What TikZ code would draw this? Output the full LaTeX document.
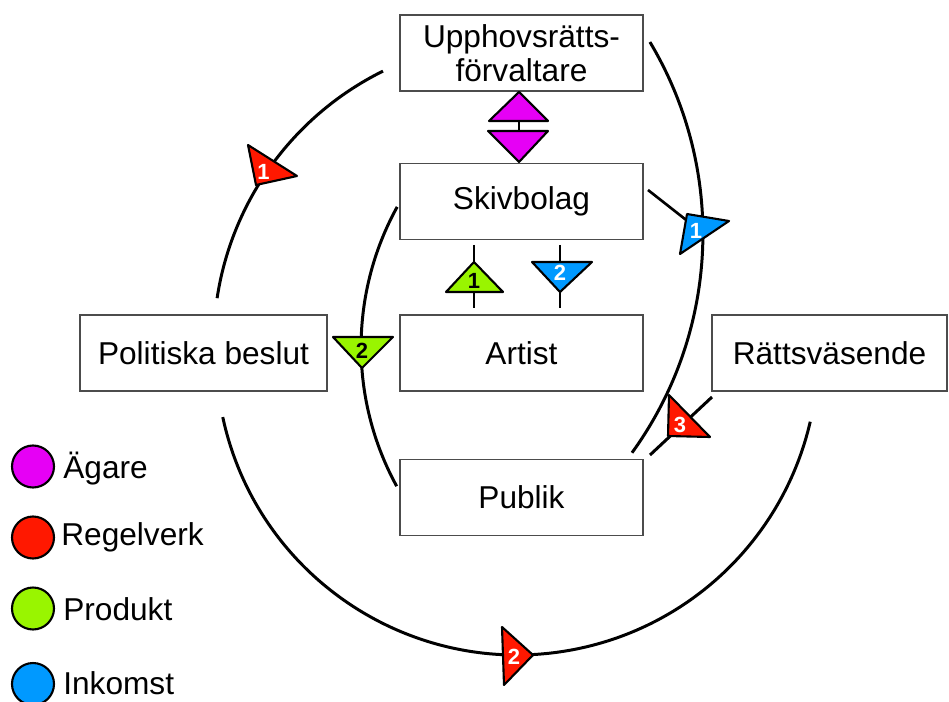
\documentclass[tikz,border=0pt]{standalone}
\usepackage{fontspec}
\setmainfont{Liberation Sans}
\definecolor{cmag}{HTML}{E600F5}
\definecolor{cred}{HTML}{FF1800}
\definecolor{cgreen}{HTML}{99F500}
\definecolor{cblue}{HTML}{0099FF}
\begin{document}
\begin{tikzpicture}[x=0.02cm, y=-0.02cm,
  box/.style={draw=black!70, line width=0.8pt, fill=white, minimum width=4.86cm, minimum height=1.52cm, inner sep=0pt, font=\fontsize{18}{19.5}\selectfont, align=center},
  arcline/.style={line width=1.7pt},
  thinline/.style={line width=1.4pt},
  tri/.style={draw=black, line width=1.2pt, line join=round},
  num/.style={font=\fontsize{12.5}{14}\selectfont\bfseries, inner sep=0pt},
  legc/.style={circle, draw=black, line width=1.2pt, minimum size=0.84cm, inner sep=0pt},
  legt/.style={anchor=base west, inner sep=0pt, font=\fontsize{18}{19}\selectfont}]
\useasboundingbox (0,0) rectangle (949,702);

% boxes
\node[box] (upph) at (521.5,53) {Upphovsrätts-\\förvaltare};
\node[box] (skiv) at (521.5,201.5) {Skivbolag};
\node[box] (artist) at (521.5,353) {Artist};
\node[box] (publik) at (521.5,497.5) {Publik};
\node[box, minimum width=4.94cm] (polit) at (203.5,353) {Politiska beslut};
\node[box, minimum width=4.7cm] (ratt) at (829.5,353) {Rättsväsende};

% arc endpoints
\path (517.6,343.6) ++(116.3:6.08cm) coordinate (la);
\path (517,354) ++(192.1:6.02cm) coordinate (ba);
\path (329.5,233.8) ++(30.9:7.47cm) coordinate (ra);
\path (651,347) ++(151.1:5.8cm) coordinate (ia);

% arcs
\draw[arcline] (la) arc[start angle=116.3, end angle=171.4, radius=6.08cm];
\draw[arcline] (ba) arc[start angle=192.1, end angle=347, radius=6.02cm];
\draw[arcline] (ra) arc[start angle=30.9, end angle=-35.9, radius=7.47cm];
\draw[arcline] (ia) arc[start angle=151.1, end angle=208.7, radius=5.8cm];

% straight connectors
\coordinate (sb1) at (648,190);
\coordinate (sb2) at (690,223);
\draw[line width=1.5pt] (sb1) -- (sb2);
\coordinate (rv1) at (712,397);
\coordinate (rv2) at (650,455);
\draw[arcline] (rv1) -- (rv2);
\coordinate (ga) at (474,245);
\coordinate (gb) at (474,308);
\draw[thinline] (ga) -- (gb);
\coordinate (bla) at (560,245);
\coordinate (blb) at (560,308);
\draw[thinline] (bla) -- (blb);
\coordinate (ma) at (519,120);
\coordinate (mb) at (519,132);
\draw[thinline] (ma) -- (mb);

% magenta triangles
\fill[cmag, tri] (519,92) -- (489,121) -- (548,121) -- cycle;
\fill[cmag, tri] (488,131) -- (548,131) -- (519,162) -- cycle;

% green / blue between Skivbolag and Artist
\fill[cgreen, tri] (474,262) -- (446,292) -- (503,292) -- cycle;
\node[num, text=black] (n1g) at (474,281) {1};
\fill[cblue, tri] (532,262) -- (592,262) -- (560,292) -- cycle;
\node[num, text=white] (n2b) at (560,273) {2};

% green 2 on inner arc
\fill[cgreen, tri] (333,337) -- (393,337) -- (362,368) -- cycle;
\node[num, text=black] (n2g) at (362,351) {2};

% red 1 on left arc
\fill[cred, tri] (248,145) -- (297,176) -- (256,185) -- cycle;
\node[num, text=white] (n1r) at (263.5,172) {1};

% blue 1 on right arc
\fill[cblue, tri] (687,214) -- (729,221) -- (680,254) -- cycle;
\node[num, text=white] (n1b) at (696,231) {1};

% red 3
\fill[cred, tri] (669,395) -- (710,437) -- (668,436) -- cycle;
\node[num, text=white] (n3r) at (680,425) {3};

% red 2 on bottom arc
\fill[cred, tri] (502,627) -- (533,655) -- (504,685) -- cycle;
\node[num, text=white] (n2r) at (514,657) {2};

% legend
\node[legc, fill=cmag] (lc1) at (33,466.5) {};
\node[legc, fill=cred] (lc2) at (33,537.5) {};
\node[legc, fill=cgreen] (lc3) at (33,608.5) {};
\node[legc, fill=cblue] (lc4) at (33,684) {};
\node[legt] (lt1) at (63,478) {Ägare};
\node[legt] (lt2) at (61,545) {Regelverk};
\node[legt] (lt3) at (63,620) {Produkt};
\node[legt] (lt4) at (63,694) {Inkomst};
\end{tikzpicture}
\end{document}
